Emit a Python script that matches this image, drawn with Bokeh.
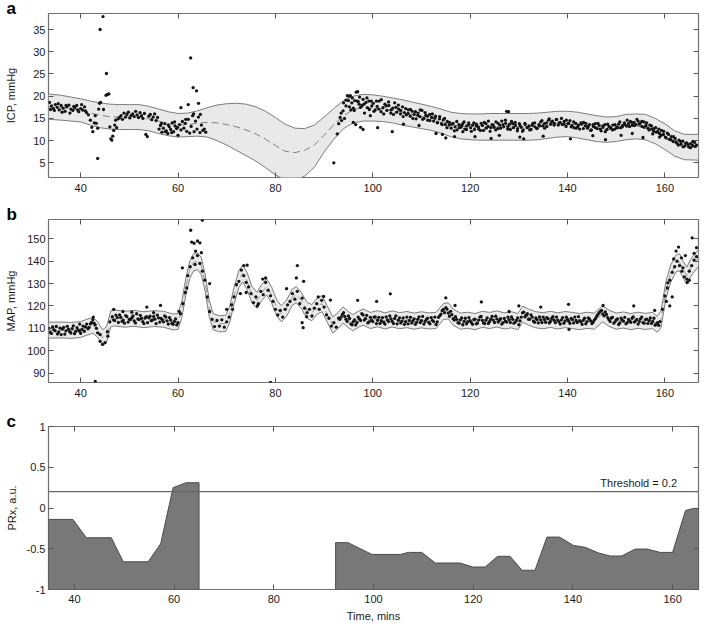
from bokeh.plotting import figure
from bokeh.layouts import column
from bokeh.models import (Range1d, FixedTicker, LinearAxis, Span, Label, Title,
                          CustomJSTickFormatter)
from bokeh.embed import file_html
from bokeh.resources import INLINE

FONT = "Liberation Sans"

# ---------------- Panel a: ICP ----------------
icp_band_t = [33.4, 36, 38, 40, 42, 44, 46, 48, 50, 52, 54, 56, 58, 60, 62, 64, 66, 68, 70, 72,
              74, 76, 78, 80, 82, 84, 86, 88, 90, 92, 94, 96, 98, 100, 102, 104, 106, 108, 110,
              112, 114, 116, 118, 120, 122, 124, 126, 128, 130, 132, 134, 136, 138, 140, 142,
              144, 146, 148, 150, 152, 154, 156, 158, 160, 162, 164, 166.9]
icp_upper = [20.5, 20.2, 19.8, 19.4, 18.9, 18.5, 18.2, 18.1, 18.1, 18.1, 17.7, 17.1, 16.5, 16.1,
             16.2, 16.7, 17.4, 18.0, 18.3, 18.4, 18.2, 17.6, 16.6, 15.2, 13.7, 12.8, 12.7, 13.5,
             15.3, 17.2, 19.0, 20.0, 20.4, 20.3, 20.0, 19.6, 19.2, 18.7, 18.2, 17.7, 17.1, 16.4,
             16.1, 16.0, 16.0, 16.1, 16.1, 16.1, 16.1, 16.1, 16.2, 16.4, 16.6, 16.6, 16.4, 16.0,
             15.6, 15.3, 15.4, 15.9, 16.0, 15.9, 15.0, 13.8, 12.2, 11.4, 11.4]
icp_lower = [14.8, 14.6, 14.4, 14.2, 13.5, 12.9, 12.6, 12.5, 12.5, 12.5, 12.2, 11.6, 11.1, 10.8,
             10.9, 11.0, 10.8, 10.0, 9.0, 7.8, 6.6, 5.4, 3.9, 2.3, 1.1, 1.0, 2.0, 4.0,
             7.4, 10.3, 12.7, 14.0, 14.4, 14.4, 14.3, 14.0, 13.5, 13.1, 12.7, 12.3, 11.7, 10.9,
             10.4, 10.2, 10.1, 10.1, 10.1, 10.1, 10.1, 10.1, 10.2, 10.5, 10.8, 10.9, 10.6, 10.2,
             9.8, 9.6, 9.8, 10.2, 10.4, 10.2, 9.3, 8.0, 6.5, 5.7, 5.6]
icp_mean = [17.6, 17.4, 17.1, 16.8, 16.2, 15.7, 15.4, 15.3, 15.3, 15.3, 14.9, 14.4, 13.8, 13.5,
            13.6, 13.9, 14.1, 14.0, 13.6, 13.1, 12.4, 11.5, 10.3, 8.9, 7.6, 7.3, 7.8, 9.0,
            11.2, 13.6, 15.6, 17.0, 17.4, 17.3, 17.1, 16.8, 16.4, 15.9, 15.4, 15.0, 14.4, 13.6,
            13.2, 13.1, 13.0, 13.1, 13.1, 13.1, 13.1, 13.1, 13.2, 13.4, 13.7, 13.8, 13.5, 13.1,
            12.7, 12.5, 12.6, 13.0, 13.2, 13.1, 12.2, 10.9, 9.3, 8.5, 8.5]

icp_t = [
    33.6, 34.0, 34.4, 34.8, 35.2, 35.6, 36.0, 36.4, 36.8, 37.2, 37.6, 38.0, 38.4, 38.8, 39.2,
    39.6, 40.0, 40.4, 40.8, 41.2, 41.6, 42.0,
    33.8, 34.6, 35.4, 36.2, 37.0, 37.8, 38.6, 39.4, 40.2, 41.0,
    42.3, 42.5, 42.8, 43.0, 43.2, 43.5, 43.7, 43.9, 44.1,
    43.5, 44.0, 44.6, 45.3, 45.2, 45.5, 45.8, 44.7,
    46.0, 46.2, 46.4, 46.6, 46.8, 47.0, 47.2, 47.4, 47.7, 48.0,
    48.3, 48.6, 48.9, 49.2, 49.5, 49.8, 50.1, 50.4, 50.7, 51.0, 51.3, 51.6, 51.9, 52.2, 52.5,
    52.8, 53.1, 53.4, 53.7, 54.0,
    54.3, 54.6, 54.9, 55.2, 55.5, 55.8,
    56.1, 56.4, 56.7, 57.0, 57.3, 57.6, 57.9, 58.2, 58.5, 58.8, 59.1, 59.4, 59.7, 60.0,
    56.6, 57.4, 58.0, 58.7, 59.3, 59.9,
    60.3, 60.6, 60.9, 61.2, 61.5, 61.8, 62.1, 62.4, 62.7, 63.0, 63.3, 63.6, 63.9, 64.2, 64.5,
    64.8, 65.1, 65.4, 65.7,
    60.6, 62.1, 62.6, 63.1, 63.8, 64.2, 63.2, 64.6, 61.6,
    92.0, 92.7,
    93.0, 93.3, 93.6, 93.9, 94.2, 94.5, 94.8, 95.1, 95.4, 95.7, 96.0, 96.3, 96.6, 96.9, 97.2,
    95.0, 95.5, 96.0, 96.5, 97.0, 97.5, 98.0, 98.3, 98.6, 98.9, 99.2, 99.5, 99.8,
    100.1, 100.5, 100.9, 101.3, 101.7, 102.1, 102.5, 102.9, 103.3, 103.7, 104.1, 104.5, 104.9,
    105.3, 105.7, 106.1, 106.5, 106.9, 107.3, 107.7, 108.1, 108.5, 108.9, 109.3, 109.7, 110.1,
    110.5, 110.9, 111.3, 111.7, 112.1, 112.5, 112.9, 113.3, 113.7, 114.1, 114.5, 114.9, 115.3,
    97.5, 98.0, 101.0, 104.0, 106.3, 109.5, 113.0, 114.3, 115.0, 116.8, 118.5, 121.0, 124.3,
    126.0, 127.5, 127.9, 130.2, 131.0, 135.0, 140.6, 145.2, 147.8, 151.0, 153.3, 155.5, 157.5,
    158.9,
    115.7, 116.1, 116.5, 116.9, 117.3, 117.7, 118.1, 118.5, 118.9, 119.3, 119.7, 120.1, 120.5,
    120.9, 121.3, 121.7, 122.1, 122.5, 122.9, 123.3, 123.7, 124.1, 124.5, 124.9, 125.3, 125.7,
    126.1, 126.5, 126.9, 127.3, 127.7, 128.1, 128.5, 128.9, 129.3, 129.7, 130.1, 130.5, 130.9,
    131.3, 131.7, 132.1, 132.5, 132.9, 133.3, 133.7, 134.1, 134.5, 134.9, 135.3, 135.7, 136.1,
    136.5, 136.9, 137.3, 137.7, 138.1, 138.5, 138.9, 139.3, 139.7, 140.1, 140.5, 140.9, 141.3,
    141.7, 142.1, 142.5, 142.9, 143.3, 143.7, 144.1, 144.5, 144.9, 145.3, 145.7, 146.1, 146.5,
    146.9, 147.3, 147.7, 148.1, 148.5, 148.9, 149.3, 149.7, 150.1, 150.5, 150.9, 151.3, 151.7,
    152.1, 152.5, 152.9, 153.3, 153.7, 154.1, 154.5, 154.9, 155.3, 155.7, 156.1, 156.5, 156.9,
    157.3, 157.7, 158.1, 158.5, 158.9, 159.3, 159.7, 160.1, 160.5, 160.9, 161.3, 161.7, 162.1,
    162.5, 162.9, 163.3, 163.7, 164.1, 164.5, 164.9, 165.3, 165.7, 166.1, 166.5,
]
icp_v = [
    18.6, 17.8, 17.2, 18.1, 17.5, 16.9, 17.9, 17.3, 16.6, 17.6, 18.0, 17.1, 16.8, 17.4, 17.9,
    16.5, 17.2, 16.9, 17.6, 16.3, 15.8, 14.6,
    17.0, 16.8, 18.3, 16.4, 17.9, 16.2, 17.7, 16.9, 18.1, 16.7,
    13.0, 12.0, 14.0, 15.6, 13.9, 12.8, 17.1, 18.4, 18.6,
    6.0, 35.0, 37.9, 25.1, 20.2, 20.4, 20.5, 17.0,
    13.1, 10.4, 10.1, 11.0, 12.3, 13.5, 14.6, 12.9, 14.9, 15.2,
    15.6, 14.8, 16.2, 15.3, 15.9, 16.4, 15.1, 15.7, 16.0, 15.4, 16.6, 15.8, 15.2, 16.3, 15.6,
    15.0, 16.1, 11.4, 10.9, 15.5,
    15.9, 14.7, 15.3, 16.0, 14.5, 15.2,
    12.6, 13.4, 11.9, 12.8, 13.8, 12.2, 11.6, 13.1, 12.5, 14.0, 12.0, 13.3, 12.7, 11.2,
    13.9, 12.0, 13.5, 11.8, 14.2, 13.0,
    13.6, 12.4, 14.3, 12.8, 13.9, 12.1, 14.8, 11.7, 13.2, 15.6, 12.0, 14.4, 12.6, 15.3, 11.8,
    13.5, 12.3, 12.6, 11.9,
    17.4, 18.1, 28.6, 21.9, 21.2, 18.4, 16.0, 15.9, 14.8,
    5.0, 11.5,
    13.8, 15.2, 14.5, 16.7, 15.0, 17.8, 20.1, 20.0, 20.1, 18.5, 17.3, 19.0, 20.9, 21.0, 18.2,
    19.0, 16.9, 14.1, 13.6, 18.8, 17.5, 19.3, 16.2, 18.6, 17.4, 18.9, 15.6, 17.8,
    18.4, 16.9, 17.7, 18.9, 16.5, 17.4, 18.2, 16.8, 17.9, 16.2, 17.3, 18.5, 16.4,
    17.1, 16.0, 17.6, 16.3, 15.8, 16.9, 15.5, 16.6, 15.9, 14.9, 16.2, 15.4, 16.8,
    15.0, 15.7, 14.6, 15.9, 15.2, 14.4, 15.5, 14.1, 14.9, 13.8, 14.7, 13.6, 14.3,
    13.0, 12.5, 12.9, 12.0, 13.7, 13.4, 11.6, 11.4, 10.6, 10.9, 12.0, 10.9, 10.5,
    11.2, 16.6, 16.5, 10.8, 10.4, 11.0, 10.4, 11.1, 10.2, 11.2, 11.6, 10.7, 11.5,
    10.8,
    13.5, 12.8, 13.9, 13.1, 12.4, 13.6, 13.0, 13.8, 12.6, 13.3, 14.0, 12.9, 13.5,
    12.5, 13.7, 13.1, 12.3, 13.4, 14.1, 12.8, 13.2, 12.1, 13.6, 13.0, 14.2, 12.7,
    13.5, 14.4, 13.1, 13.9, 12.6, 13.7, 14.3, 12.9, 13.4, 12.2, 13.8, 13.0, 12.4,
    13.6, 12.9, 13.3, 12.5, 13.9, 13.1, 12.7, 13.6, 14.2, 13.3, 12.8, 14.0, 14.6,
    13.7, 14.4, 13.9, 14.7, 13.5, 14.1, 13.6, 14.3, 13.2, 13.8, 14.5, 13.4, 12.9,
    13.9, 13.1, 12.6, 13.7, 14.1, 13.3, 12.8, 13.6, 12.4, 13.2, 13.8, 12.7, 13.4,
    12.2, 13.0, 13.6, 12.5, 13.2, 12.8, 13.5, 12.6, 13.1, 13.7, 12.9, 13.4, 14.0,
    13.3, 13.8, 14.3, 13.5, 14.1, 13.6, 14.4, 13.9, 13.2, 14.2, 13.4, 12.8, 13.5,
    12.6, 12.1, 12.9, 12.0, 11.6, 12.3, 11.4, 10.8, 11.7, 10.3, 10.9, 9.8, 10.5,
    9.4, 10.1, 9.2, 9.9, 8.8, 9.5, 8.6, 9.3, 8.9, 9.6, 9.0,
]
assert len(icp_t) == len(icp_v)

# second (denser) row of ICP samples
icp2_t = [
    93.5, 94.0, 94.5, 95.2, 95.8, 96.2, 96.8, 97.3, 97.8, 98.2, 98.8, 99.3, 99.7,
    100.25, 100.75, 101.25, 101.75, 102.25, 102.75, 103.25, 103.75, 104.25, 104.75,
    105.25, 105.75, 106.25, 106.75, 107.25, 107.75, 108.25, 108.75, 109.25, 109.75,
    110.25, 110.75, 111.25, 111.75, 112.25, 112.75, 113.25, 113.75, 114.25, 114.75,
    115.25, 115.75, 116.25, 116.75, 117.25, 117.75, 118.25, 118.75, 119.25, 119.75,
    120.25, 120.75, 121.25, 121.75, 122.25, 122.75, 123.25, 123.75, 124.25, 124.75,
    125.25, 125.75, 126.25, 126.75, 127.25, 127.75, 128.25, 128.75, 129.25, 129.75,
    130.25, 130.75, 131.25, 131.75, 132.25, 132.75, 133.25, 133.75, 134.25, 134.75,
    135.25, 135.75, 136.25, 136.75, 137.25, 137.75, 138.25, 138.75, 139.25, 139.75,
    140.25, 140.75, 141.25, 141.75, 142.25, 142.75, 143.25, 143.75, 144.25, 144.75,
    145.25, 145.75, 146.25, 146.75, 147.25, 147.75, 148.25, 148.75, 149.25, 149.75,
    150.25, 150.75, 151.25, 151.75, 152.25, 152.75, 153.25, 153.75, 154.25, 154.75,
    155.25, 155.75, 156.25, 156.75, 157.25, 157.75, 158.25, 158.75, 159.25, 159.75,
    160.25, 160.75, 161.25, 161.75, 162.25, 162.75, 163.25, 163.75, 164.25, 164.75,
    165.25, 165.75, 166.25,
]
icp2_v = [
    16.2, 18.5, 19.1, 17.6, 19.6, 16.8, 18.9, 19.8, 17.9, 18.2, 19.6, 17.0, 18.9,
    16.6, 18.9, 17.1, 19.2, 16.0, 17.8, 18.7, 16.9, 15.9, 17.5,
    18.0, 16.8, 15.4, 17.2, 16.1, 17.0, 15.0, 16.5, 15.7, 16.9,
    14.8, 16.3, 15.5, 14.5, 16.0, 15.1, 14.0, 15.4, 13.6, 15.0,
    12.9, 14.1, 13.7, 12.2, 14.3, 12.9, 13.4, 14.2, 12.5, 13.6,
    12.1, 14.0, 13.3, 12.6, 13.9, 12.3, 13.8, 14.4, 12.9, 13.5,
    12.4, 13.9, 12.8, 13.6, 14.6, 13.2, 12.5, 13.8, 14.1, 12.7,
    13.4, 12.1, 13.9, 13.0, 12.4, 13.5, 14.0, 12.8, 13.3, 14.5,
    13.8, 13.2, 14.9, 14.2, 13.5, 14.8, 14.0, 15.0, 13.7, 14.6,
    13.9, 13.1, 14.2, 12.8, 13.5, 14.0, 12.7, 13.9, 13.2, 12.3,
    13.6, 12.9, 13.9, 12.6, 13.3, 12.0, 13.7, 13.0, 12.4, 13.6,
    12.9, 14.2, 13.1, 13.6, 14.6, 13.2, 14.1, 13.4, 14.8, 13.7,
    14.3, 13.0, 14.0, 12.4, 13.3, 12.7, 11.9, 12.6, 11.2, 12.1,
    10.6, 11.4, 10.2, 10.9, 9.7, 9.0, 9.8, 8.6, 9.4, 9.1,
    8.4, 9.8, 8.7,
]
assert len(icp2_t) == len(icp2_v)

# ---------------- Panel b: MAP ----------------
map_band_t = [33.4, 36, 38, 40, 41.5, 42.5, 43.5, 44.5, 45.3, 46.2, 47, 49, 51, 53, 55, 57, 59,
              60, 60.8, 61.6, 62.4, 63.2, 64.0, 64.8, 65.6, 66.4, 67.2, 68.5, 69.8, 70.6, 71.5,
              72.5, 73.3, 74.2, 75.2, 76.2, 77.2, 78.2, 79.2, 80.3, 81.2, 82.3, 83.5, 84.3,
              85.3, 86.5, 87.5, 88.6, 89.6, 90.6, 91.8, 92.9, 93.9, 94.9, 95.9, 97.0, 98.0,
              99.5, 101, 102.5, 104, 105.5, 107, 108.5, 110, 111.5, 113, 114.5, 115.5, 116.5,
              118, 119.5, 121, 122.5, 124, 125.5, 127, 128.5, 129.8, 130.8, 132, 133.5, 135,
              136.5, 138, 139.5, 141, 142.5, 144, 145.5, 147.2, 148.5, 150, 151.5, 153, 154.5,
              156, 157.5, 158.4, 159.2, 160.2, 161.2, 162.3, 163.0, 163.8, 164.5, 165.3, 166.9]
map_mean = [109.0, 109.2, 109.0, 109.4, 110.6, 111.3, 109.5, 105.8, 107.0, 114.2, 114.6, 114.0,
            114.4, 113.8, 114.3, 114.0, 112.8, 113.0, 118.5, 128.5, 136.0, 139.5, 140.0, 137.8,
            130.0, 119.0, 113.0, 112.0, 112.2, 116.0, 124.5, 132.0, 134.5, 131.0, 125.0, 122.5,
            126.0, 128.5, 125.0, 119.0, 116.5, 119.0, 124.0, 125.0, 122.5, 118.0, 117.0, 120.0,
            121.0, 116.5, 111.5, 113.5, 116.0, 114.0, 112.5, 114.0, 115.0, 113.5, 114.3, 113.3,
            114.2, 113.4, 113.9, 113.2, 113.8, 113.3, 113.5, 117.5, 117.8, 115.0, 113.2, 113.6,
            113.0, 114.0, 113.5, 114.2, 113.3, 113.8, 113.0, 116.3, 115.0, 113.8, 113.4, 114.0,
            113.3, 113.9, 113.5, 113.0, 113.6, 113.2, 116.5, 114.5, 113.2, 113.7, 113.0, 113.6,
            113.1, 113.5, 111.8, 114.0, 127.0, 134.5, 139.0, 139.5, 136.0, 133.5, 137.0, 141.5]
map_upper = [112.7, 112.8, 112.6, 113.0, 114.2, 114.9, 113.0, 109.4, 110.6, 117.8, 118.2, 117.6,
             118.0, 117.4, 117.9, 117.6, 116.4, 116.6, 122.2, 132.3, 139.8, 143.3, 143.8, 141.6,
             133.8, 122.7, 116.6, 115.6, 115.8, 119.6, 128.2, 135.8, 138.3, 134.8, 128.7, 126.1,
             129.6, 132.1, 128.6, 122.6, 120.1, 122.6, 127.6, 128.6, 126.1, 121.6, 120.6, 123.6,
             124.6, 120.1, 115.1, 117.1, 119.6, 117.6, 116.1, 117.6, 118.6, 117.1, 117.9, 116.9,
             117.8, 117.0, 117.5, 116.8, 117.4, 116.9, 117.1, 121.1, 121.4, 118.6, 116.8, 117.2,
             116.6, 117.6, 117.1, 117.8, 116.9, 117.4, 116.6, 119.9, 118.6, 117.4, 117.0, 117.6,
             116.9, 117.5, 117.1, 116.6, 117.2, 116.8, 120.1, 118.1, 116.8, 117.3, 116.6, 117.2,
             116.7, 117.1, 115.4, 117.8, 130.8, 138.3, 142.8, 143.3, 139.8, 137.3, 140.8, 145.3]
map_lower = [105.6, 105.7, 105.5, 105.9, 107.1, 107.8, 106.0, 102.4, 103.5, 110.7, 111.1, 110.5,
             110.9, 110.3, 110.8, 110.5, 109.3, 109.5, 114.8, 124.7, 132.2, 135.7, 136.2, 134.0,
             126.2, 115.3, 109.4, 108.4, 108.6, 112.4, 120.8, 128.2, 130.7, 127.2, 121.3, 118.9,
             122.4, 124.9, 121.4, 115.4, 112.9, 115.4, 120.4, 121.4, 118.9, 114.4, 113.4, 116.4,
             117.4, 112.9, 107.9, 109.9, 112.4, 110.4, 108.9, 110.4, 111.4, 109.9, 110.7, 109.7,
             110.6, 109.8, 110.3, 109.6, 110.2, 109.7, 109.9, 113.9, 114.2, 111.4, 109.6, 110.0,
             109.4, 110.4, 109.9, 110.6, 109.7, 110.2, 109.4, 112.7, 111.4, 110.2, 109.8, 110.4,
             109.7, 110.3, 109.9, 109.4, 110.0, 109.6, 112.9, 110.9, 109.6, 110.1, 109.4, 110.0,
             109.5, 109.9, 108.2, 110.2, 123.2, 130.7, 135.2, 135.7, 132.2, 129.7, 133.2, 137.7]

map_t = [
    33.5, 34.0, 34.5, 35.0, 35.5, 36.0, 36.5, 37.0, 37.5, 38.0,
    38.5, 39.0, 39.5, 40.0, 40.5, 41.0, 41.5, 42.0, 42.5, 43.0,
    43.5, 44.0, 44.5, 45.0, 45.5, 46.0, 46.5, 47.0, 47.5, 48.0,
    48.5, 49.0, 49.5, 50.0, 50.5, 51.0, 51.5, 52.0, 52.5, 53.0,
    53.5, 54.0, 54.5, 55.0, 55.5, 56.0, 56.5, 57.0, 57.5, 58.0,
    58.5, 59.0, 59.5, 60.0, 60.5, 61.0, 61.5, 62.0, 62.5, 63.0,
    63.5, 64.0, 64.5, 65.0, 65.5, 66.0, 66.5, 67.0, 67.5, 68.0,
    68.5, 69.0, 69.5, 70.0, 70.5, 71.0, 71.5, 72.0, 72.5, 73.0,
    73.5, 74.0, 74.5, 75.0, 75.5, 76.0, 76.5, 77.0, 77.5, 78.0,
    78.5, 79.0, 79.5, 80.0, 80.5, 81.0, 81.5, 82.0, 82.5, 83.0,
    83.5, 84.0, 84.5, 85.0, 85.5, 86.0, 86.5, 87.0, 87.5, 88.0,
    88.5, 89.0, 89.5, 90.0, 90.5, 91.0, 91.5, 92.0, 92.5, 93.0,
    93.5, 94.0, 94.5, 95.0, 95.5, 96.0, 96.5, 97.0, 97.5, 98.0,
    98.5, 99.0, 99.5, 100.0, 100.5, 101.0, 101.5, 102.0, 102.5, 103.0,
    103.5, 104.0, 104.5, 105.0, 105.5, 106.0, 106.5, 107.0, 107.5, 108.0,
    108.5, 109.0, 109.5, 110.0, 110.5, 111.0, 111.5, 112.0, 112.5, 113.0,
    113.5, 114.0, 114.5, 115.0, 115.5, 116.0, 116.5, 117.0, 117.5, 118.0,
    118.5, 119.0, 119.5, 120.0, 120.5, 121.0, 121.5, 122.0, 122.5, 123.0,
    123.5, 124.0, 124.5, 125.0, 125.5, 126.0, 126.5, 127.0, 127.5, 128.0,
    128.5, 129.0, 129.5, 130.0, 130.5, 131.0, 131.5, 132.0, 132.5, 133.0,
    133.5, 134.0, 134.5, 135.0, 135.5, 136.0, 136.5, 137.0, 137.5, 138.0,
    138.5, 139.0, 139.5, 140.0, 140.5, 141.0, 141.5, 142.0, 142.5, 143.0,
    143.5, 144.0, 144.5, 145.0, 145.5, 146.0, 146.5, 147.0, 147.5, 148.0,
    148.5, 149.0, 149.5, 150.0, 150.5, 151.0, 151.5, 152.0, 152.5, 153.0,
    153.5, 154.0, 154.5, 155.0, 155.5, 156.0, 156.5, 157.0, 157.5, 158.0,
    158.5, 159.0, 159.5, 160.0, 160.5, 161.0, 161.5, 162.0, 162.5, 163.0,
    163.5, 164.0, 164.5, 165.0, 165.5, 166.0, 166.5,
    39.8, 42.6, 48.7, 53.6, 56.4, 60.9, 62.6, 62.8, 63.3, 64.0, 64.5, 65.0, 61.8, 63.6, 64.8,
    66.5, 73.5, 74.2, 72.8, 74.0, 71.2, 70.0, 77.4, 78.0, 76.3, 82.3, 84.5, 84.3, 85.8, 85.5,
    85.7, 86.4, 88.8, 89.9, 91.3, 96.9, 100.8, 103.6, 115.0, 116.9, 122.3, 128.0, 130.0, 134.5,
    140.2, 140.3, 147.3, 153.6, 157.9, 160.3, 160.6, 161.0, 161.5, 161.8, 162.3, 162.8, 163.4,
    163.7, 164.2, 164.6, 165.0, 165.6, 166.0, 166.5, 43.0, 79.0, 45.6, 44.0, 60.2, 55.0, 50.5,
    46.8,
]
map_v = [
    110.0, 107.7, 109.4, 110.8, 108.4, 107.2, 110.4, 108.9, 109.6, 107.9,
    111.1, 108.6, 109.3, 107.8, 111.0, 110.6, 109.8, 112.0, 113.9, 111.5,
    108.0, 104.2, 102.8, 103.6, 108.5, 112.9, 115.2, 113.5, 114.8, 116.0,
    113.1, 112.3, 115.2, 114.0, 114.7, 113.3, 116.5, 113.9, 114.5, 112.1,
    115.2, 114.7, 113.4, 115.3, 112.1, 114.7, 114.4, 112.9, 115.0, 111.9,
    113.7, 111.8, 114.2, 112.5, 116.5, 121.0, 126.0, 133.5, 137.5, 141.5,
    138.5, 142.5, 139.0, 135.5, 131.5, 124.0, 117.5, 114.0, 110.8, 113.5,
    111.0, 113.8, 110.5, 112.9, 115.0, 120.5, 124.0, 129.5, 131.0, 136.0,
    133.5, 130.5, 128.5, 125.5, 121.5, 124.0, 121.0, 126.5, 125.0, 130.5,
    127.0, 124.5, 122.0, 118.5, 116.0, 118.0, 115.0, 118.5, 120.5, 122.0,
    125.5, 123.0, 126.5, 121.0, 123.5, 119.0, 117.0, 118.5, 115.5, 119.0,
    121.0, 118.5, 122.5, 119.5, 116.0, 114.5, 111.0, 112.5, 110.5, 114.5,
    115.0, 117.0, 114.0, 115.5, 112.0, 113.0, 111.5, 115.0, 113.5, 116.0,
    114.3, 112.4, 114.9, 113.0, 115.1, 113.6, 112.2, 114.8, 111.9, 113.8,
    115.5, 113.1, 114.4, 112.0, 114.7, 113.2, 111.8, 115.0, 113.5, 112.4,
    114.2, 112.7, 115.1, 113.4, 111.9, 114.0, 112.6, 114.8, 113.0, 111.7,
    114.9, 116.3, 118.4, 119.2, 116.8, 117.6, 114.3, 115.2, 112.5, 113.8,
    111.6, 114.5, 112.9, 113.4, 111.8, 114.1, 112.3, 115.0, 113.6, 112.1,
    114.7, 113.0, 115.3, 112.6, 114.2, 113.5, 111.9, 114.4, 112.8, 113.9,
    115.1, 112.3, 113.5, 111.6, 115.0, 117.2, 115.8, 114.1, 116.0, 113.2,
    114.6, 112.4, 113.8, 115.0, 112.7, 114.3, 113.1, 115.2, 112.5, 113.7,
    111.9, 114.8, 113.3, 114.1, 112.2, 113.9, 115.0, 112.6, 113.4, 111.8,
    114.5, 113.0, 114.2, 112.1, 113.7, 115.4, 117.0, 118.0, 115.6, 116.2,
    113.9, 114.6, 112.3, 113.8, 111.7, 114.5, 113.2, 112.0, 114.0, 112.7,
    115.1, 113.4, 111.9, 114.3, 112.5, 113.9, 112.2, 114.6, 113.1, 111.4,
    112.5, 113.0, 118.5, 124.5, 128.0, 131.5, 135.0, 137.5, 140.0, 138.0,
    135.5, 133.0, 132.0, 135.5, 138.0, 140.5, 142.0,
    111.9, 115.0, 117.5, 119.5, 120.2, 137.0, 153.8, 148.5, 148.0, 149.0, 148.2, 158.3, 128.0,
    144.5, 143.8, 130.0, 138.0, 138.2, 125.5, 126.0, 118.5, 118.5, 132.0, 132.5, 120.0, 127.7,
    138.0, 132.5, 131.0, 112.5, 110.3, 115.2, 124.0, 124.2, 122.6, 122.5, 122.0, 125.4, 123.6,
    120.2, 121.8, 117.5, 120.0, 119.5, 120.7, 109.5, 120.2, 120.0, 118.0, 122.0, 130.3, 120.0,
    124.0, 141.0, 144.5, 146.3, 141.5, 137.0, 142.5, 130.5, 131.5, 150.4, 143.5, 146.0, 86.3,
    85.9, 106.5, 107.2, 117.6, 117.0, 117.2, 118.5,
]
assert len(map_t) == len(map_v)

# second (denser) row of MAP samples
map2_t = [
    33.75, 34.25, 34.75, 35.25, 35.75, 36.25, 36.75, 37.25, 37.75, 38.25,
    38.75, 39.25, 39.75, 40.25, 40.75, 41.25, 41.75, 42.25, 42.75, 43.25,
    46.75, 47.25, 47.75, 48.25, 48.75, 49.25, 49.75, 50.25, 50.75, 51.25,
    51.75, 52.25, 52.75, 53.25, 53.75, 54.25, 54.75, 55.25, 55.75, 56.25,
    56.75, 57.25, 57.75, 58.25, 58.75, 59.25, 59.75,
    93.25, 93.75, 94.25, 94.75, 95.25, 95.75, 96.25, 96.75, 97.25, 97.75,
    98.25, 98.75, 99.25, 99.75, 100.25, 100.75, 101.25, 101.75, 102.25, 102.75,
    103.25, 103.75, 104.25, 104.75, 105.25, 105.75, 106.25, 106.75, 107.25, 107.75,
    108.25, 108.75, 109.25, 109.75, 110.25, 110.75, 111.25, 111.75, 112.25, 112.75,
    113.25, 113.75, 114.25, 114.75, 115.25, 115.75, 116.25, 116.75, 117.25, 117.75,
    118.25, 118.75, 119.25, 119.75, 120.25, 120.75, 121.25, 121.75, 122.25, 122.75,
    123.25, 123.75, 124.25, 124.75, 125.25, 125.75, 126.25, 126.75, 127.25, 127.75,
    128.25, 128.75, 129.25, 129.75, 130.25, 130.75, 131.25, 131.75, 132.25, 132.75,
    133.25, 133.75, 134.25, 134.75, 135.25, 135.75, 136.25, 136.75, 137.25, 137.75,
    138.25, 138.75, 139.25, 139.75, 140.25, 140.75, 141.25, 141.75, 142.25, 142.75,
    143.25, 143.75, 144.25, 144.75, 145.25, 145.75, 146.25, 146.75, 147.25, 147.75,
    148.25, 148.75, 149.25, 149.75, 150.25, 150.75, 151.25, 151.75, 152.25, 152.75,
    153.25, 153.75, 154.25, 154.75, 155.25, 155.75, 156.25, 156.75, 157.25, 157.75,
    158.25, 158.75,
]
map2_v = [
    108.2, 110.6, 108.9, 107.5, 110.1, 109.7, 107.4, 110.9, 108.5, 109.9,
    107.6, 110.3, 108.8, 109.5, 108.7, 111.9, 110.4, 112.6, 112.3, 110.0,
    113.8, 115.9, 112.6, 114.9, 113.6, 115.7, 112.8, 113.9, 115.5, 112.4,
    114.2, 115.8, 113.0, 114.6, 112.5, 115.4, 113.7, 114.1, 115.9, 112.8,
    113.9, 115.6, 113.3, 114.8, 112.2, 113.1, 111.5,
    114.0, 116.2, 115.3, 113.1, 114.4, 111.6, 113.8, 112.6, 114.2, 116.5,
    113.7, 115.8, 112.9, 113.6, 115.0, 112.1, 114.9, 113.4, 112.7, 115.1,
    113.0, 114.2, 112.2, 115.6, 113.6, 112.4, 114.6, 113.0, 112.0, 114.9,
    113.3, 111.8, 114.0, 112.6, 115.3, 113.1, 114.5, 112.0, 113.5, 115.0,
    112.9, 115.6, 117.9, 117.0, 118.6, 115.4, 116.1, 113.7, 114.0, 112.3,
    114.6, 113.1, 112.0, 114.8, 112.6, 113.9, 112.0, 113.7, 115.3, 112.4,
    113.6, 112.2, 114.1, 113.7, 115.4, 112.8, 114.3, 112.5, 113.2, 115.0,
    112.6, 114.0, 112.8, 114.6, 113.3, 116.9, 115.1, 116.5, 114.0, 115.0,
    112.7, 113.9, 115.1, 112.6, 113.9, 114.8, 112.4, 114.4, 113.6, 115.0,
    112.9, 113.8, 112.3, 115.0, 113.2, 114.4, 112.4, 113.5, 115.2, 112.9,
    113.6, 112.0, 114.6, 113.3, 112.7, 114.4, 116.2, 117.6, 116.4, 117.3,
    114.8, 113.1, 114.9, 112.9, 114.2, 112.4, 113.6, 114.9, 112.5, 113.3,
    114.5, 112.8, 114.0, 113.0, 115.0, 112.3, 114.1, 113.4, 112.2, 114.5,
    112.0, 111.3,
]
assert len(map2_t) == len(map2_v)

# ---------------- Panel c: PRx ----------------
prx_t1 = [34.8, 39.7, 42.4, 47.4, 49.8, 54.8, 57.3, 59.8, 62.4, 65.0]
prx_v1 = [-0.14, -0.14, -0.365, -0.365, -0.66, -0.66, -0.44, 0.25, 0.31, 0.31]
prx_t2 = [92.4, 94.9, 99.7, 105.4, 107.0, 109.7, 112.4, 117.4, 119.9, 122.4, 124.9, 127.4,
          129.8, 132.4, 134.8, 137.3, 140.1, 142.5, 145.2, 147.5, 149.8, 152.5, 154.9, 157.5,
          160.0, 162.6, 164.2, 165.2]
prx_v2 = [-0.425, -0.425, -0.57, -0.57, -0.545, -0.545, -0.675, -0.675, -0.724, -0.724,
          -0.593, -0.593, -0.764, -0.764, -0.357, -0.357, -0.459, -0.483, -0.553, -0.589,
          -0.589, -0.504, -0.504, -0.545, -0.545, -0.03, -0.005, -0.005]
prx_threshold = 0.2

x_ticks = [40, 60, 80, 100, 120, 140, 160]
icp_ticks = [5, 10, 15, 20, 25, 30, 35]
map_ticks = [90, 100, 110, 120, 130, 140, 150]
prx_ticks = [-1, -0.5, 0, 0.5, 1]
prx_tick_labels = {-1: "-1", -0.5: "-0.5", 0: "0", 0.5: "0.5", 1: "1"}

TICK_COLOR = "#555555"
TEXT_COLOR = "#1a1a1a"
BAND_FILL = "#e9e9e9"
BAND_LINE = "#7c7c7c"
DOT = "#141414"
DOT_SIZE = 3.3


def make_fig(height, xr, yr, top, bottom):
    p = figure(width=704, height=height, x_range=Range1d(*xr), y_range=Range1d(*yr),
               output_backend="svg", toolbar_location=None,
               min_border_left=48, min_border_right=6, min_border_top=top,
               min_border_bottom=bottom)
    p.xgrid.visible = False
    p.ygrid.visible = False
    p.outline_line_color = "#707070"
    p.outline_line_width = 1.2
    p.background_fill_color = "white"
    p.border_fill_color = "white"
    return p


def style_axis(ax, ticks, show_labels=True):
    ax.ticker = FixedTicker(ticks=ticks)
    ax.minor_tick_line_color = None
    ax.major_tick_in = 5
    ax.major_tick_out = 0
    ax.major_tick_line_color = TICK_COLOR
    ax.major_tick_line_width = 1
    ax.axis_line_color = None
    if show_labels:
        ax.major_label_text_font = FONT
        ax.major_label_text_font_size = "11px"
        ax.major_label_text_color = TEXT_COLOR
    else:
        ax.formatter = CustomJSTickFormatter(code="return ''")
        ax.major_label_text_font_size = "1px"
        ax.major_label_standoff = 0


def decorate(p, yticks, ylabel, lab_standoff, letter, letter_standoff):
    bottom = p.below[0]
    left = p.left[0]
    style_axis(bottom, x_ticks)
    bottom.major_label_standoff = 6
    style_axis(left, yticks)
    left.major_label_standoff = 3
    left.axis_label = ylabel
    left.axis_label_text_font = FONT
    left.axis_label_text_font_size = "11px"
    left.axis_label_text_font_style = "normal"
    left.axis_label_text_color = TEXT_COLOR
    left.axis_label_standoff = lab_standoff
    top = LinearAxis()
    style_axis(top, x_ticks, show_labels=False)
    p.add_layout(top, "above")
    right = LinearAxis()
    style_axis(right, yticks, show_labels=False)
    p.add_layout(right, "right")
    # panel letter, set in the top border and pulled to the far left
    p.add_layout(Title(text=letter, align="left", offset=-42, standoff=letter_standoff,
                       text_font=FONT, text_font_size="17px", text_font_style="bold",
                       text_color="#000000", vertical_align="bottom"), "above")
    return bottom, left


# Panel a
pa = make_fig(206, (33.4, 166.9), (1.7, 38.6), 12, 29)
pa.varea(x=icp_band_t, y1=icp_lower, y2=icp_upper, fill_color=BAND_FILL)
pa.line(icp_band_t, icp_upper, line_color=BAND_LINE, line_width=1)
pa.line(icp_band_t, icp_lower, line_color=BAND_LINE, line_width=1)
pa.line(icp_band_t, icp_mean, line_color="#808080", line_width=1, line_dash="7 4")
pa.scatter(icp_t, icp_v, size=DOT_SIZE, color=DOT, line_color=None)
pa.scatter(icp2_t, icp2_v, size=DOT_SIZE, color=DOT, line_color=None)
decorate(pa, icp_ticks, "ICP, mmHg", 13, "a", -8)

# Panel b
pb = make_fig(206, (33.4, 166.9), (85.8, 158.6), 12, 30)
pb.varea(x=map_band_t, y1=map_lower, y2=map_upper, fill_color=BAND_FILL)
pb.line(map_band_t, map_upper, line_color=BAND_LINE, line_width=1)
pb.line(map_band_t, map_lower, line_color=BAND_LINE, line_width=1)
pb.line(map_band_t, map_mean, line_color="#8a8a8a", line_width=0.8, line_dash="7 4")
pb.scatter(map_t, map_v, size=DOT_SIZE, color=DOT, line_color=None)
pb.scatter(map2_t, map2_v, size=DOT_SIZE, color=DOT, line_color=None)
decorate(pb, map_ticks, "MAP, mmHg", 7, "b", -8)

# Panel c
pc = make_fig(216, (34.8, 165.2), (-1, 1), 14, 39)
for tt, vv in ((prx_t1, prx_v1), (prx_t2, prx_v2)):
    xs = [tt[0]] + tt + [tt[-1]]
    ys = [prx_ticks[0]] + vv + [prx_ticks[0]]
    pc.patch(xs, ys, fill_color="#787878", line_color="#4a4a4a", line_width=1)
pc.add_layout(Span(location=prx_threshold, dimension="width", line_color="#666666",
                   line_width=1.2))
pc.add_layout(Label(x=160.9, y=prx_threshold, text="Threshold = 0.2", text_align="right",
                    text_baseline="bottom", y_offset=3, text_font=FONT,
                    text_font_size="11px", text_color=TEXT_COLOR))
cb, cl = decorate(pc, prx_ticks, "PRx, a.u.", 6, "c", -8)
cl.major_label_overrides = prx_tick_labels
cb.axis_label = "Time, mins"
cb.axis_label_text_font = FONT
cb.axis_label_text_font_size = "11px"
cb.axis_label_text_font_style = "normal"
cb.axis_label_text_color = TEXT_COLOR
cb.axis_label_standoff = 4
cb.major_label_standoff = 5

layout = column(pa, pb, pc, spacing=0)
open("out.html", "w").write(file_html(layout, INLINE))
